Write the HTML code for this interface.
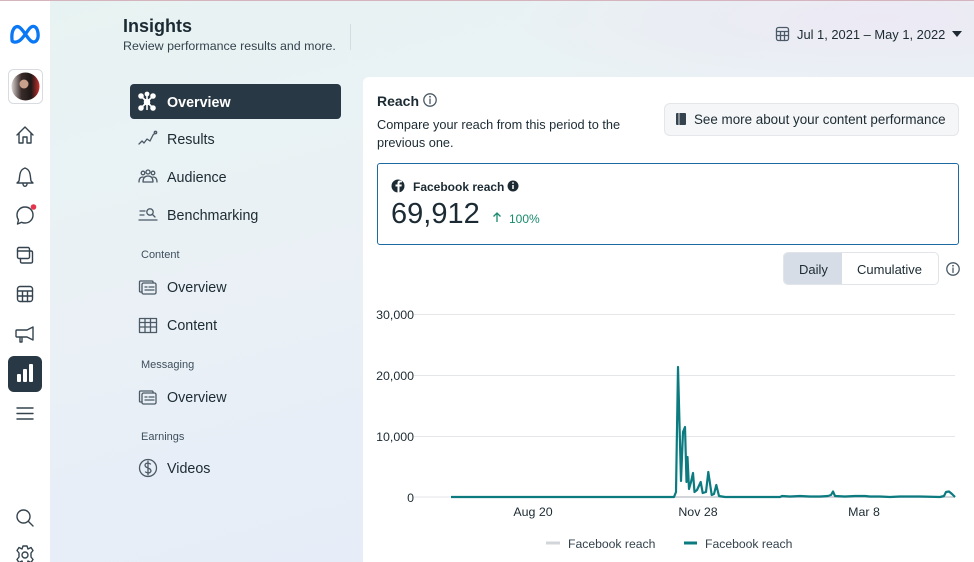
<!DOCTYPE html>
<html><head><meta charset="utf-8"><style>
*{margin:0;padding:0;box-sizing:border-box}
html,body{width:974px;height:562px;overflow:hidden}
body{position:relative;font-family:"Liberation Sans",sans-serif;color:#1c2b33;
background:linear-gradient(165deg,#e7f3f2 0%,#eaf1f5 35%,#e8eef7 65%,#e3ebf8 100%);}
.abs{position:absolute;white-space:nowrap}
#topglow{position:absolute;left:500px;top:0;width:474px;height:90px;background:radial-gradient(ellipse at 80% 20%,rgba(236,232,244,0.9),rgba(236,232,244,0) 70%)}
#topline{position:absolute;left:0;top:0;width:974px;height:1px;background:#d6b4be}
#side{position:absolute;left:0;top:1px;width:50px;height:561px;background:#fff}
#card{position:absolute;left:363px;top:77px;width:620px;height:500px;background:#fff;border-radius:6px 0 0 0}
.nav{position:absolute;left:167px;font-size:14.3px;color:#1c2b33}
.sec{position:absolute;left:141px;font-size:11px;color:#3d4f5c}
</style></head><body>
<div id="topglow"></div>
<div id="topline"></div>
<div id="side"></div>

<!-- header -->
<div class="abs" style="left:123px;top:16px;font-size:18px;font-weight:bold;color:#1c2b33">Insights</div>
<div class="abs" style="left:123px;top:39px;font-size:12.4px;color:#34434e">Review performance results and more.</div>
<div class="abs" style="left:350px;top:24px;width:1px;height:26px;background:#d5dbe0"></div>
<div class="abs" style="left:797px;top:27px;font-size:12.9px;color:#1c2b33">Jul 1, 2021 – May 1, 2022</div>

<!-- selected nav -->
<div class="abs" style="left:130px;top:84px;width:211px;height:35px;background:#283844;border-radius:4px"></div>
<div class="nav" style="top:95px;color:#fff;font-weight:bold">Overview</div>
<div class="nav" style="top:132px">Results</div>
<div class="nav" style="top:170px">Audience</div>
<div class="nav" style="top:208px">Benchmarking</div>
<div class="sec" style="top:249px">Content</div>
<div class="nav" style="top:280px">Overview</div>
<div class="nav" style="top:318px">Content</div>
<div class="sec" style="top:359px">Messaging</div>
<div class="nav" style="top:390px">Overview</div>
<div class="sec" style="top:431px">Earnings</div>
<div class="nav" style="top:461px">Videos</div>

<!-- card -->
<div id="card"></div>
<div class="abs" style="left:377px;top:93px;font-size:14px;font-weight:bold;color:#1c2b33">Reach</div>
<div class="abs" style="left:377px;top:116px;font-size:12.75px;line-height:18px;color:#1c2b33">Compare your reach from this period to the<br>previous one.</div>
<div class="abs" style="left:664px;top:103px;width:295px;height:33px;background:#f5f6f7;border:1px solid #e4e6ea;border-radius:6px"></div>
<div class="abs" style="left:694px;top:112px;font-size:13.4px;color:#1c2b33">See more about your content performance</div>
<div class="abs" style="left:377px;top:163px;width:582px;height:82px;border:1.5px solid #1d6aa3;border-radius:3px"></div>
<div class="abs" style="left:413px;top:180px;font-size:12px;font-weight:bold;color:#1c2b33">Facebook reach</div>
<div class="abs" style="left:391px;top:198px;font-size:29px;color:#1c2b33">69,912</div>
<div class="abs" style="left:509px;top:212px;font-size:12px;color:#1a8a6e">100%</div>
<div class="abs" style="left:783px;top:252px;width:156px;height:33px;border:1px solid #e1e4e8;border-radius:5px;background:#fff"></div>
<div class="abs" style="left:784px;top:253px;width:58px;height:31px;background:#d7dde7;border-radius:4px 0 0 4px"></div>
<div class="abs" style="left:799px;top:262px;font-size:13px;color:#1c2b33">Daily</div>
<div class="abs" style="left:857px;top:262px;font-size:13px;color:#1c2b33">Cumulative</div>

<!-- chart labels -->
<div class="abs" style="left:360px;top:308px;width:54px;text-align:right;font-size:12.4px;color:#1c2b33">30,000</div>
<div class="abs" style="left:360px;top:369px;width:54px;text-align:right;font-size:12.4px;color:#1c2b33">20,000</div>
<div class="abs" style="left:360px;top:430px;width:54px;text-align:right;font-size:12.4px;color:#1c2b33">10,000</div>
<div class="abs" style="left:360px;top:491px;width:54px;text-align:right;font-size:12.4px;color:#1c2b33">0</div>
<div class="abs" style="left:503px;top:505px;width:60px;text-align:center;font-size:12.4px;color:#1c2b33">Aug 20</div>
<div class="abs" style="left:668px;top:505px;width:60px;text-align:center;font-size:12.4px;color:#1c2b33">Nov 28</div>
<div class="abs" style="left:834px;top:505px;width:60px;text-align:center;font-size:12.4px;color:#1c2b33">Mar 8</div>
<div class="abs" style="left:568px;top:537px;font-size:12.2px;color:#34434e">Facebook reach</div>
<div class="abs" style="left:705px;top:537px;font-size:12.2px;color:#34434e">Facebook reach</div>

<svg class="abs" style="left:0;top:0" width="974" height="562" viewBox="0 0 974 562">
 <!-- meta logo -->
 <path d="M12,40 C11,30 15,25 19,27 C23,29 27,38 31,41 C35,44 39,40 38,33 C37,26 33,25 30,28 C27,31 23,39 19,41 C15,43 12,42 12,40 Z" fill="none" stroke="#0a78f5" stroke-width="3.3" stroke-linejoin="round"/>
 <!-- avatar -->
 <rect x="8.5" y="69.5" width="34" height="34" rx="5" fill="#fff" stroke="#d8dce1"/>
 <defs><linearGradient id="av" x1="0" y1="0" x2="1" y2="0"><stop offset="0" stop-color="#d8d2cf"/><stop offset="0.35" stop-color="#3a2c2a"/><stop offset="0.7" stop-color="#1e1816"/><stop offset="1" stop-color="#c8302e"/></linearGradient></defs>
 <circle cx="25.5" cy="86.5" r="14" fill="url(#av)"/>
 <circle cx="24" cy="84" r="4.5" fill="#c9a08c"/>
 <g fill="none" stroke="#34434e" stroke-width="1.4" stroke-linejoin="round" stroke-linecap="round">
  <!-- home -->
  <path d="M17,135 L25,127 L33,135 M19,133 V143 H23 V137 H27 V143 H31 V133"/>
  <!-- bell -->
  <path d="M19,181 C20,176 19,170 25,168 C31,170 30,176 31,181 L33,183 H17 Z M23,184 C23,187 27,187 27,184"/>
  <!-- chat -->
  <path d="M25,207 C30,207 33,211 33,215 C33,220 29,223 25,223 C23.5,223 22.5,222.7 21.5,222.3 L17.5,224 L18.5,220 C17.5,218.5 17,217 17,215 C17,211 20,207 25,207 Z"/>
  <!-- stacked -->
  <rect x="17.5" y="247.5" width="12" height="11" rx="1.5"/>
  <path d="M20.5,258.5 V261.5 Q20.5,263 22,263 H31 Q32.5,263 32.5,261.5 V252.5 Q32.5,251 31,251 H29.5 M17.5,251 H29.5"/>
  <!-- table -->
  <rect x="17.5" y="286.5" width="15" height="15" rx="2.5"/>
  <path d="M17.5,291 H32.5 M17.5,296 H32.5 M22.5,291 V301.5 M27.5,291 V301.5"/>
  <!-- megaphone -->
  <path d="M17,330 H27 L33,327 V340 L27,337 H17 Q16,337 16,336 V331 Q16,330 17,330 Z M20,337 V342 H22 V337"/>
  <!-- hamburger -->
  <path d="M17,408 H33 M17,413.5 H33 M17,419 H33"/>
  <!-- search -->
  <circle cx="23.5" cy="516.5" r="6.5"/>
  <path d="M28.5,521.5 L33,526"/>
  <!-- settings -->
  <circle cx="25" cy="555" r="3"/>
  <path d="M23,546 H27 L28,549 L31,547.5 L33,550.5 L31,553 L31,557 L33,559.5 L31,562.5 L28,561 L27,564 H23 L22,561 L19,562.5 L17,559.5 L19,557 V553 L17,550.5 L19,547.5 L22,549 Z"/>
 </g>
 <circle cx="33.5" cy="207" r="2.8" fill="#e4344a"/>
 <!-- selected chart -->
 <rect x="8" y="356" width="34" height="36" rx="6" fill="#283844"/>
 <rect x="17" y="374" width="4" height="8" rx="1" fill="#fff"/>
 <rect x="23" y="369" width="4" height="13" rx="1" fill="#fff"/>
 <rect x="29" y="364" width="4" height="18" rx="1" fill="#fff"/>

 <!-- nav icons -->
 <g fill="#fff" stroke="#fff" stroke-width="1.6">
  <path d="M147,102 L141,96 M147,102 L153,96 M147,102 L141,108 M147,102 L153,108 M147,102 L147,94 M147,102 L147,110"/>
  <circle cx="147" cy="102" r="2.5"/><circle cx="141" cy="96" r="2"/><circle cx="153" cy="96" r="2"/><circle cx="141" cy="108" r="2"/><circle cx="153" cy="108" r="2"/><circle cx="147" cy="94" r="1.6"/>
 </g>
 <g fill="none" stroke="#4b5a66" stroke-width="1.3" stroke-linecap="round" stroke-linejoin="round">
  <!-- results -->
  <path d="M139,144 L142,141 L144,143 L147,139 L150,141 L153,135 L155,133"/>
  <circle cx="155.5" cy="132.5" r="1.2"/>
  <!-- audience -->
  <circle cx="143" cy="173" r="1.8"/><circle cx="148" cy="172" r="2"/><circle cx="153" cy="173" r="1.8"/>
  <path d="M139,182 Q139,177 143,177 M157,182 Q157,177 153,177 M143,182 Q143,176 148,176 Q153,176 153,182 Z"/>
  <!-- benchmarking -->
  <path d="M140,211 H145 M140,215 H144 M139,220 H157"/>
  <circle cx="150" cy="212" r="3.2"/><path d="M152.5,214.5 L155,217"/>
  <!-- content overview -->
  <rect x="142" y="283" width="14" height="11" rx="1.5"/>
  <path d="M142,292 H140.5 Q139.5,292 139.5,291 V282 Q139.5,281 140.5,281 H152 Q153,281 153,282 V283"/>
  <path d="M145,287 H147 M149,287 H154 M145,290 H154"/>
  <!-- content table -->
  <rect x="139.5" y="318.5" width="17" height="14"/>
  <path d="M139.5,322.5 H156.5 M139.5,327 H156.5 M145,318.5 V332.5 M150.5,318.5 V332.5"/>
  <!-- messaging overview -->
  <rect x="142" y="393" width="14" height="11" rx="1.5"/>
  <path d="M142,402 H140.5 Q139.5,402 139.5,401 V392 Q139.5,391 140.5,391 H152 Q153,391 153,392 V393"/>
  <path d="M145,397 H147 M149,397 H154 M145,400 H154"/>
  <!-- videos dollar -->
  <circle cx="148" cy="468" r="8.5"/>
  <path d="M150.5,464 Q148,462.5 146,463.5 Q144,465 146,467 L150,469 Q152,471 150,472.5 Q148,473.5 145.5,472 M148,461 V475"/>
  <!-- calendar -->
  <rect x="776.5" y="27.5" width="12" height="13" rx="2"/>
  <path d="M776.5,31.5 H788.5 M776.5,35.5 H788.5 M780.5,31.5 V40.5 M784.5,31.5 V40.5"/>
  <!-- reach info -->
  <circle cx="430" cy="100" r="6.2"/>
  <path d="M430,99 V103.5"/>
  <!-- toggle info -->
  <circle cx="953" cy="269" r="6.2"/>
  <path d="M953,268 V272.5"/>
 </g>
 <circle cx="430" cy="96.8" r="0.9" fill="#4b5a66"/>
 <circle cx="953" cy="265.8" r="0.9" fill="#4b5a66"/>
 <!-- caret -->
 <path d="M952,31 L962,31 L957,37 Z" fill="#1c2b33"/>
 <!-- book icon -->
 <rect x="676" y="113" width="10" height="12" rx="1" fill="#34434e"/>
 <path d="M679,113 V125" stroke="#fff" stroke-width="0.8"/>
 <!-- fb icon -->
 <circle cx="398" cy="186" r="6.5" fill="#1c2b33"/>
 <path d="M399.5,193 V186.5 H401.5 L401.8,184.5 H399.5 V183.3 Q399.5,182.4 400.5,182.4 H401.9 V180.7 Q400.9,180.5 400,180.5 Q397.5,180.5 397.5,183 V184.5 H395.5 V186.5 H397.5 V193" fill="#fff"/>
 <circle cx="513" cy="186" r="5.5" fill="#1c2b33"/>
 <path d="M513,185 V189" stroke="#fff" stroke-width="1.5"/><circle cx="513" cy="183" r="0.9" fill="#fff"/>
 <!-- up arrow -->
 <path d="M497,222 V213 M493.5,216.5 L497,213 L500.5,216.5" fill="none" stroke="#1a8a6e" stroke-width="1.3"/>

 <!-- gridlines -->
 <g stroke="#e4e6ea" stroke-width="1">
  <path d="M414,314.5 H955 M414,375.5 H955 M414,436.5 H955"/>
 </g>
 <path d="M414,497 H955" stroke="#e4e6ea" stroke-width="1"/>
 <path d="M451,497 H955" stroke="#d2d5da" stroke-width="2"/>
 <polyline fill="none" stroke="#0b7b80" stroke-width="2.2" stroke-linejoin="round" points="451,497 674,497 676,492 678,367 681,481 683,432 685,427 686.5,482 687.5,457 689,489 691,482 693,473 694.5,492 697,490 700.7,482 702.7,493 706,492 708.3,472 711.7,495 714,494 716.3,485 719,496 725,497 780,497 782,496 790,496.5 800,496 810,496.5 820,496.5 828,496 831,495 833,491.5 835,496 845,496.5 855,496 865,496 870,496.5 880,496.5 890,497 900,496.5 910,496.5 920,496.5 940,497 944,496 946,492 949,491.5 952,494 955,497"/>
 <!-- legend -->
 <path d="M546,543 H560" stroke="#d2d5da" stroke-width="3"/>
 <path d="M684,543 H697" stroke="#0b7b80" stroke-width="3"/>
</svg>
</body></html>
